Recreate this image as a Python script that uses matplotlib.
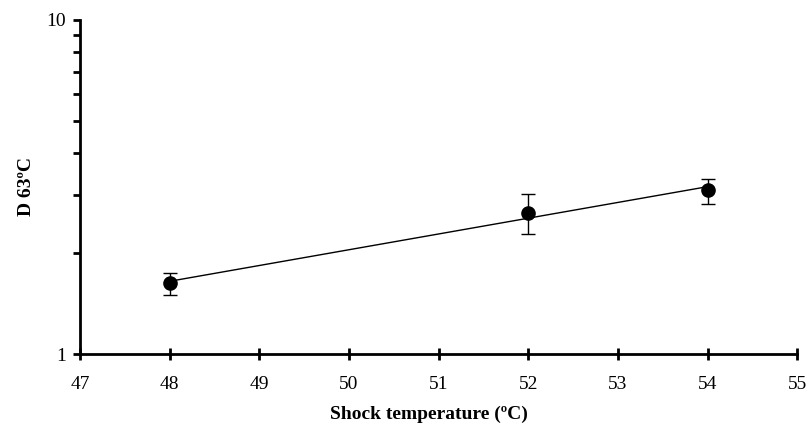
import matplotlib
matplotlib.use("Agg")
import matplotlib.pyplot as plt
import numpy as np
from matplotlib.ticker import LogLocator, FixedLocator, NullFormatter

plt.rcParams['font.family'] = ['Liberation Serif', 'DejaVu Serif']

# data
temps = np.array([48, 52, 54])
d_values = np.array([1.63, 2.65, 3.09])
err_low = np.array([1.50, 2.29, 2.82])
err_high = np.array([1.75, 3.02, 3.34])

# exponential trend line through the points
slope, icpt = np.polyfit(temps, np.log10(d_values), 1)
fit_x = np.linspace(48, 54, 50)
fit_y = 10 ** (icpt + slope * fit_x)

fig = plt.figure(figsize=(8.07, 4.25), dpi=100)
ax = fig.add_axes([0.099, 0.167, 0.889, 0.786])

ax.plot(fit_x, fit_y, color='black', lw=1.0)
ax.errorbar(temps, d_values, yerr=[d_values - err_low, err_high - d_values],
            fmt='o', color='black', ms=9.5, capsize=5, elinewidth=1, capthick=1)

ax.set_yscale('log')
ax.set_xlim(47, 55)
ax.set_ylim(1, 10)
ax.set_xticks(np.arange(47, 56, 1))
ax.yaxis.set_major_locator(FixedLocator([1, 10]))
ax.set_yticklabels(['1', '10'])
ax.yaxis.set_minor_locator(LogLocator(base=10, subs=np.arange(2, 10)))
ax.yaxis.set_minor_formatter(NullFormatter())

for s in ['top', 'right']:
    ax.spines[s].set_visible(False)
for s in ['left', 'bottom']:
    ax.spines[s].set_linewidth(2)

ax.tick_params(axis='both', which='major', direction='out', length=5, width=2,
               labelsize=14)
ax.tick_params(axis='y', which='both', pad=5)
ax.tick_params(axis='y', which='minor', direction='out', length=5, width=2)
ax.tick_params(axis='x', which='major', direction='inout', length=8, pad=12)

ax.set_xlabel('Shock temperature (ºC)', fontsize=14, fontweight='bold')
ax.xaxis.set_label_coords(0.486, -0.155)
ax.set_ylabel('D 63ºC', fontsize=14, fontweight='bold', labelpad=8)

fig.savefig('out.png', dpi=100)
